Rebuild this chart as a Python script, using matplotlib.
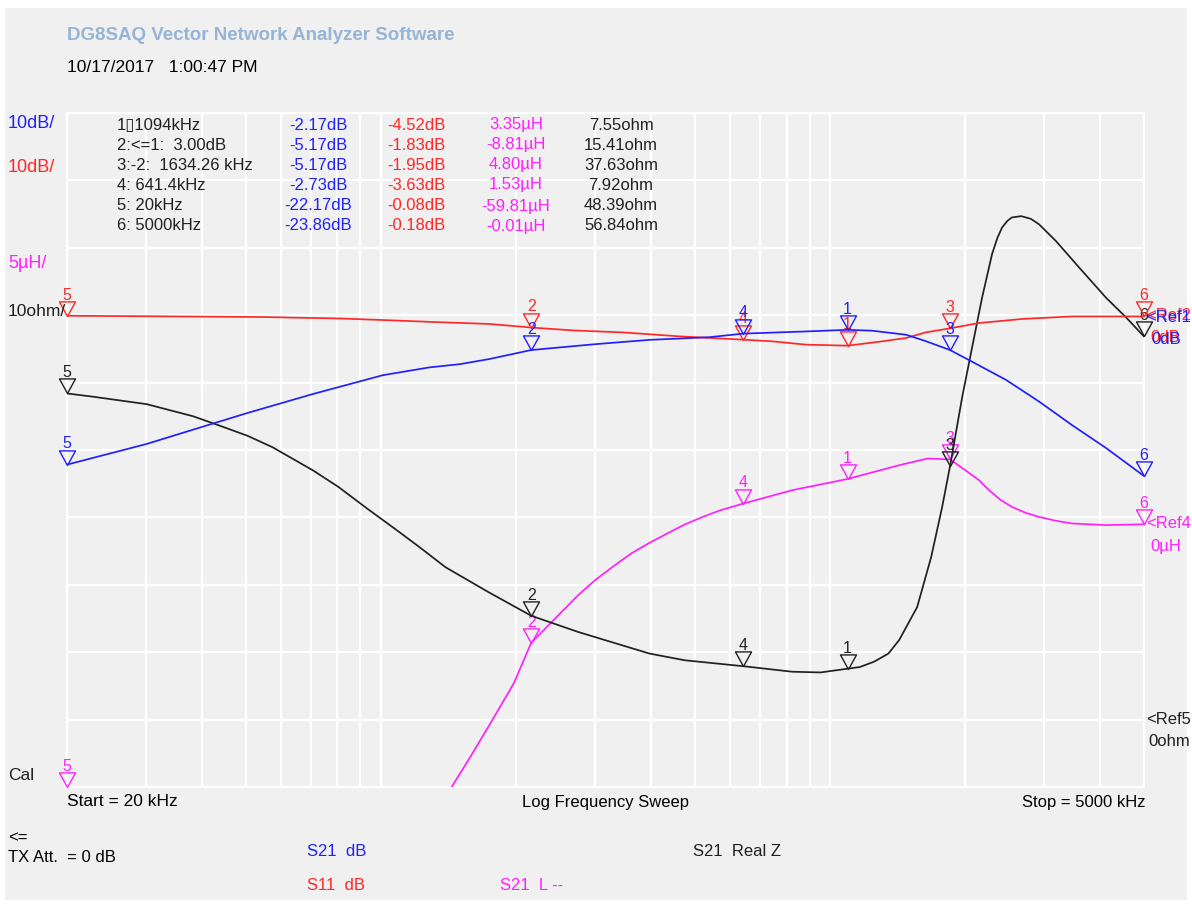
import matplotlib
matplotlib.use("Agg")
import matplotlib.pyplot as plt
from matplotlib.patches import Rectangle
from matplotlib.path import Path

W, H = 1192, 907
BG = "#f0f0f0"
BLUE, RED, MAG, BLK = "#2020ff", "#ff2828", "#ff20ff", "#202020"

plt.rcParams["font.family"] = ["Liberation Sans", "DejaVu Sans"]

# ---- marker data (markers 1..6) ----
marker_ids = ["1", "2", "3", "4", "5", "6"]
marker_freq = [1094, 216, 1850, 641.4, 20, 5000]          # kHz
s21_db_mk = [-2.17, -5.17, -5.17, -2.73, -22.17, -23.86]
s11_db_mk = [-4.52, -1.83, -1.95, -3.63, -0.08, -0.18]
s21_l_mk = [3.35, -8.81, 4.80, 1.53, -59.81, -0.01]
s21_rz_mk = [7.55, 15.41, 37.63, 7.92, 48.39, 56.84]
marker_rows = ["1\u25af1094kHz", "2:<=1:  3.00dB", "3:-2:  1634.26 kHz",
               "4: 641.4kHz", "5: 20kHz", "6: 5000kHz"]

# ---- traces (kHz / value) ----
s21_db_f = [20, 30.1, 40.3, 50.5, 70.5, 101, 128, 150, 174.5, 216, 300, 396,
            539, 641.4, 885, 1094, 1241, 1477, 1625, 1850, 2071, 2465, 2918,
            3456, 4115, 5000]
s21_db = [-22.17, -19.1, -16.5, -14.5, -11.7, -8.9, -7.75, -7.26, -6.5, -5.17,
          -4.3, -3.66, -3.26, -2.73, -2.41, -2.17, -2.3, -2.9, -3.8, -5.17,
          -6.9, -9.6, -12.8, -16.3, -19.7, -23.86]

s11_db_f = [20, 54.6, 82.2, 106, 130, 174.5, 216, 267, 345, 462, 641.4, 744,
            885, 1094, 1306, 1477, 1633, 1850, 2146, 2680, 3456, 5000]
s11_db = [-0.08, -0.27, -0.5, -0.77, -1.0, -1.3, -1.83, -2.25, -2.55, -3.14,
          -3.63, -3.88, -4.37, -4.52, -3.88, -3.38, -2.55, -1.95, -1.16, -0.56,
          -0.18, -0.18]

s21_l_f = [20, 60, 100, 143.7, 157.9, 173.7, 197.7, 216, 251, 275, 300, 329.8,
           361, 396, 434, 475, 521, 571, 641.4, 824, 1094, 1425, 1650, 1850,
           2000, 2146, 2259, 2400, 2540, 2725, 2918, 3182, 3457, 4115, 5000]
s21_l = [-59.81, -40, -28, -19.5, -17.3, -15.0, -11.8, -8.81, -6.6, -5.26,
         -4.15, -3.11, -2.17, -1.39, -0.69, -0.02, 0.54, 1.04, 1.53, 2.52, 3.35,
         4.37, 4.87, 4.80, 4.0, 3.26, 2.52, 1.78, 1.28, 0.84, 0.54, 0.25, 0.05,
         -0.07, -0.01]

s21_rz_f = [20, 22.9, 30.1, 38.2, 43.8, 50.5, 57.4, 70.5, 80.5, 92.8, 110,
            122.9, 139.3, 173.7, 216, 275, 396, 475, 641.4, 824, 953, 1094,
            1165, 1254, 1349, 1425, 1477, 1563, 1679, 1776, 1850, 1968, 2071,
            2180, 2295, 2359, 2415, 2482, 2540, 2662, 2798, 2918, 3184, 3583,
            4115, 4557, 5000]
s21_rz = [48.39, 47.9, 46.8, 45.0, 43.6, 42.1, 40.4, 37.0, 34.5, 31.4, 27.8,
          25.4, 22.6, 18.9, 15.41, 13.0, 9.8, 8.8, 7.92, 7.1, 7.0, 7.55, 7.8,
          8.6, 9.8, 11.8, 13.7, 16.7, 24.1, 31.5, 37.63, 47.8, 55.2, 62.6, 69.1,
          71.5, 73.0, 74.0, 74.5, 74.7, 74.3, 73.5, 71.0, 67.1, 62.6, 59.7,
          56.84]

grid_f = list(range(20, 100, 10)) + list(range(100, 1000, 100)) + list(range(1000, 6000, 1000))


def px(x, y):
    return x / W, 1 - y / H


def label(x, y, s, color="black", ha="left", **kw):
    fx, fy = px(x, y)
    kw.setdefault("fontsize", 12)
    fig.text(fx, fy, s, color=color, ha=ha, va="center", **kw)


fig = plt.figure(figsize=(W / 100, H / 100), dpi=100, facecolor="white")
fig.patches.append(Rectangle(px(5, 900), 1182 / W, 892 / H, transform=fig.transFigure,
                             facecolor=BG, edgecolor="none", zorder=-10))

x0, y0 = px(67, 787)
ax = fig.add_axes([x0, y0, (1144 - 67) / W, 674 / H])
ax.set_facecolor(BG)
ax.set_xscale("log")
ax.set_xlim(20, 5000)
ax.set_ylim(0, 10)
ax.set_xticks(grid_f)
ax.set_xticks([], minor=True)
ax.set_yticks(range(11))
ax.tick_params(which="both", length=0, labelbottom=False, labelleft=False)
ax.grid(True, color="white", lw=1.6)
for s in ax.spines.values():
    s.set_color("white")
    s.set_linewidth(1.6)

# down-pointing open triangle with its tip on the data point
tri = Path([(-0.55, 1.0), (0.55, 1.0), (0.0, 0.0), (-0.55, 1.0)],
           [Path.MOVETO, Path.LINETO, Path.LINETO, Path.CLOSEPOLY])


def trace(lim, f, v, mk, color, z):
    t = ax.twinx()
    t.set_ylim(*lim)
    t.axis("off")
    t.plot(f, v, color=color, lw=1.25, zorder=z, solid_joinstyle="round")
    for i, fr, val in zip(marker_ids, marker_freq, mk):
        yv = min(max(val, lim[0]), lim[1])
        t.plot([fr], [yv], marker=tri, ms=21, mfc="none", mec=color, mew=1.0,
               clip_on=False, zorder=z + 1)
        t.annotate(i, (fr, yv), xytext=(0, 9.5), textcoords="offset points",
                   ha="center", va="bottom", color=color, fontsize=11.5,
                   annotation_clip=False)
    return t


# S21 L: 0 uH a little below 4th division, 5 uH/div
trace((-19.5, 30.5), s21_l_f, s21_l, s21_l_mk, MAG, 3)
# S21 Real Z: 0 ohm on 1st division, 10 ohm/div
trace((-10, 90), s21_rz_f, s21_rz, s21_rz_mk, BLK, 4)
# S11 / S21 dB: 0 dB on 7th division, 10 dB/div
trace((-70, 30), s11_db_f, s11_db, s11_db_mk, RED, 5)
trace((-70, 30), s21_db_f, s21_db, s21_db_mk, BLUE, 6)

# ---- header ----
label(67, 36, "DG8SAQ Vector Network Analyzer Software", color="#96b4d6",
      fontweight="bold", fontsize=13.5)
label(67, 67, "10/17/2017   1:00:47 PM", fontsize=12.5)

# ---- scale labels ----
label(8, 124, "10dB/", BLUE, fontsize=13)
label(8, 168, "10dB/", RED, fontsize=13)
label(8, 264, "5\u00b5H/", MAG, fontsize=13)
label(8, 311, "10ohm/", BLK, fontsize=12.5)
label(8, 776, "Cal", BLK, fontsize=12.5)

# ---- marker table ----
row_y = [125, 145, 165, 185, 206, 226]
for k in range(6):
    y = row_y[k]
    label(117, y, marker_rows[k], BLK)
    label(318, y, f"{s21_db_mk[k]:.2f}dB", BLUE, ha="center")
    label(416, y, f"{s11_db_mk[k]:.2f}dB", RED, ha="center")
    label(516, y, f"{s21_l_mk[k]:.2f}\u00b5H", MAG, ha="center")
    label(621, y, f"{s21_rz_mk[k]:.2f}ohm", BLK, ha="center")

# ---- reference labels on the right ----
label(1146, 315, "<Ref2", RED)
label(1146, 317, "<Ref1", BLUE)
label(1150, 337, "0dB", RED)
label(1151, 339, "0dB", BLUE)
label(1146, 524, "<Ref4", MAG)
label(1150, 546, "0\u00b5H", MAG)
label(1146, 719, "<Ref5", BLK)
label(1148, 741, "0ohm", BLK)

# ---- sweep info ----
label(67, 802, "Start = 20 kHz", fontsize=12.5)
label(606, 802, "Log Frequency Sweep", ha="center")
label(1145, 802, "Stop = 5000 kHz", ha="right")
label(8, 838, "<=")
label(8, 858, "TX Att.  = 0 dB")
label(307, 852, "S21  dB", BLUE)
label(307, 885, "S11  dB", RED)
label(500, 885, "S21  L --", MAG)
label(693, 852, "S21  Real Z", BLK)

fig.savefig("out.png", dpi=100, facecolor="white")
